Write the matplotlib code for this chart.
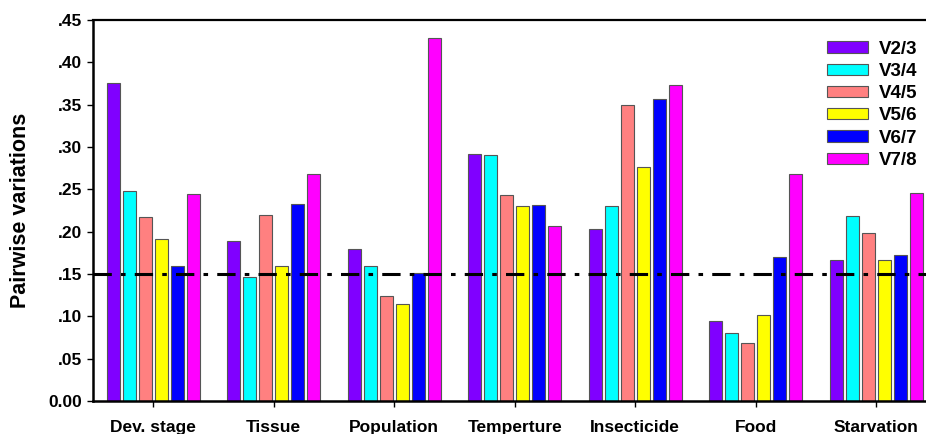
import numpy as np
import matplotlib
matplotlib.use('Agg')
import matplotlib.pyplot as plt

plt.rcParams['font.family'] = ['Liberation Sans', 'DejaVu Sans']
plt.rcParams['font.weight'] = 'bold'

categories = ['Dev. stage', 'Tissue', 'Population', 'Temperture', 'Insecticide', 'Food', 'Starvation']
series_names = ['V2/3', 'V3/4', 'V4/5', 'V5/6', 'V6/7', 'V7/8']
v23 = [0.376, 0.189, 0.180, 0.292, 0.203, 0.094, 0.166]
v34 = [0.248, 0.146, 0.160, 0.290, 0.230, 0.080, 0.219]
v45 = [0.217, 0.220, 0.124, 0.243, 0.350, 0.069, 0.199]
v56 = [0.191, 0.159, 0.114, 0.230, 0.276, 0.101, 0.167]
v67 = [0.159, 0.233, 0.151, 0.232, 0.357, 0.170, 0.173]
v78 = [0.245, 0.268, 0.429, 0.207, 0.373, 0.268, 0.246]
ytick_vals = [0.0, 0.05, 0.10, 0.15, 0.20, 0.25, 0.30, 0.35, 0.40, 0.45]
ytick_labels = ['0.00', '.05', '.10', '.15', '.20', '.25', '.30', '.35', '.40', '.45']
cutoff = 0.15

colors = ['#8000FF', '#00FFFF', '#FF8080', '#FFFF00', '#0000FF', '#FF00FF']
series = [v23, v34, v45, v56, v67, v78]

fig = plt.figure(figsize=(9.26, 4.34), dpi=100)
# axes extends past the right edge, as in the cropped original
ax = fig.add_axes([0.1004, 0.076, 0.911, 0.878])

x = np.arange(len(categories))
step = 0.133
width = 0.11
for i, (vals, c, name) in enumerate(zip(series, colors, series_names)):
    ax.bar(x + (i - 2.5) * step, vals, width=width, color=c, edgecolor='#555555',
           linewidth=0.8, label=name, zorder=2)

ax.axhline(cutoff, color='black', linestyle=(0, (6, 3, 1.5, 3)), linewidth=2.2, zorder=3)

ax.set_xlim(-0.5, 6.5)
ax.set_ylim(0, 0.45)
ax.set_xticks(x)
ax.set_xticklabels(categories, fontsize=12.5, fontweight='bold')
ax.set_yticks(ytick_vals)
ax.set_yticklabels(ytick_labels, fontsize=12.5, fontweight='bold')
ax.set_ylabel('Pairwise variations', fontsize=15.5, fontweight='bold', labelpad=12)

for s in ['left', 'bottom']:
    ax.spines[s].set_linewidth(1.8)
ax.spines['top'].set_linewidth(1.6)
ax.spines['right'].set_visible(False)
ax.tick_params(axis='both', direction='out', length=4, width=1, pad=4)
ax.tick_params(axis='x', pad=10)

leg = ax.legend(loc='upper left', bbox_to_anchor=(0.850, 0.99), frameon=False,
                fontsize=13.5, handlelength=2.2, handleheight=0.53,
                labelspacing=0.28, handletextpad=0.55)
for t in leg.get_texts():
    t.set_fontweight('bold')

fig.savefig('out.png', dpi=100)
